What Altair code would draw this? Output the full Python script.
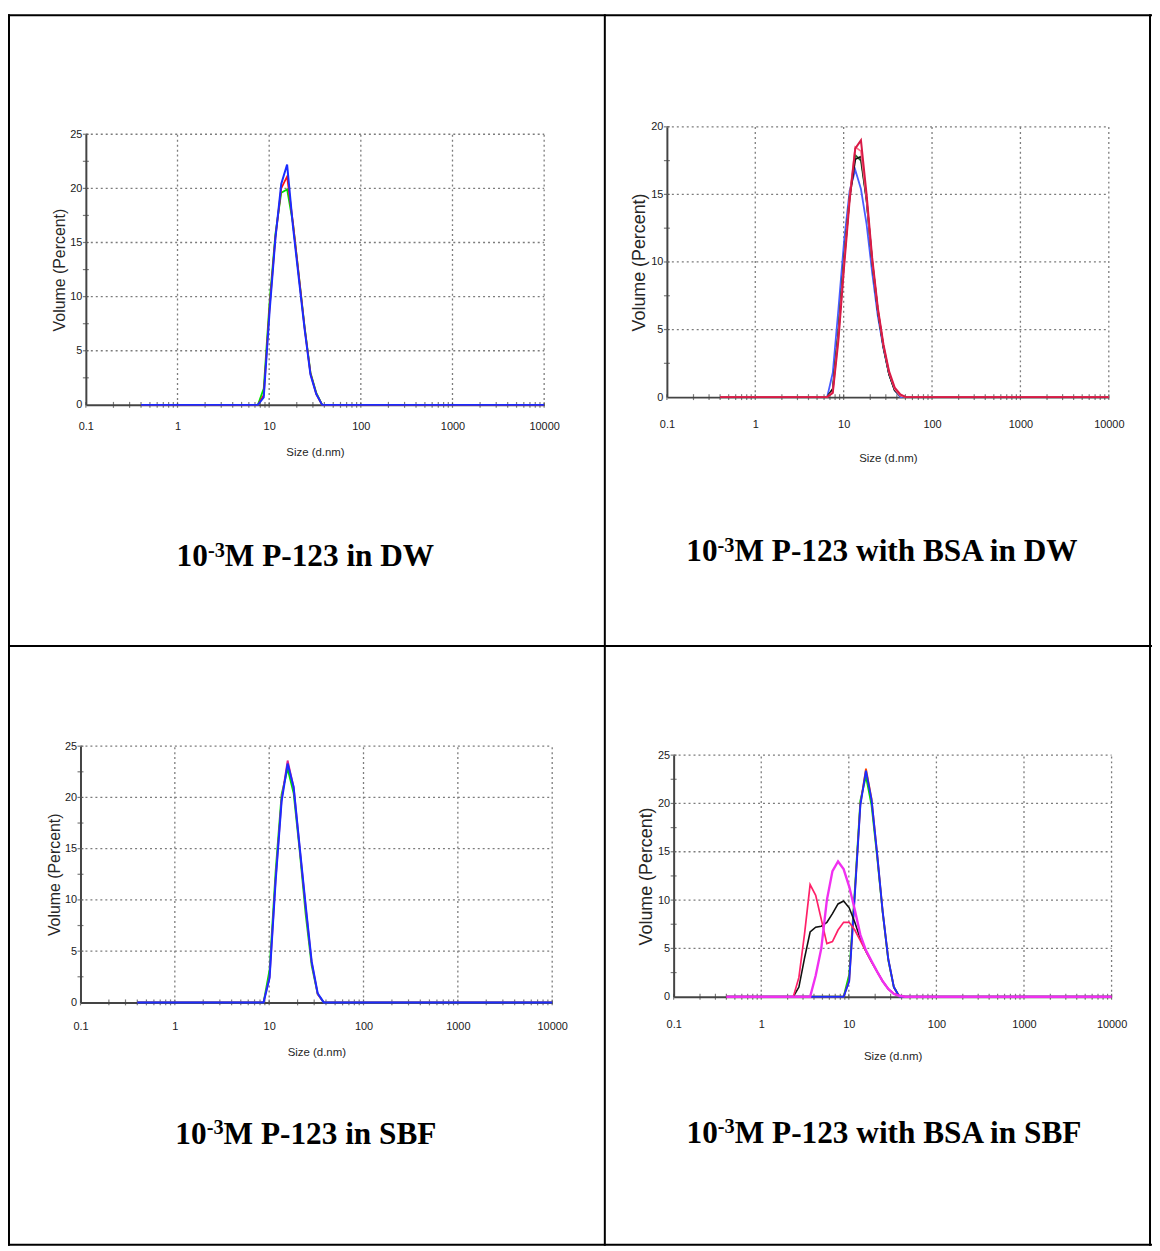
import altair as alt
import pandas as pd

W, H = 1152, 1243
AXC = '#444444'
GRID = '#7c7c7c'

# ---------------- data ----------------
size_major = [0.1, 1, 10, 100, 1000, 10000]
size_decades = [0.1, 1, 10, 100, 1000]
size_steps = [1, 2, 3, 4, 5, 6, 7, 8, 9]

# Panel 1: 10^-3 M P-123 in DW
p1_size  = [0.4, 7.531, 8.721, 10.1, 11.7, 13.54, 15.69, 18.17, 21.04, 24.36, 28.21, 32.67, 37.84, 10000]
p1_green = [0, 0, 1.5, 9.5, 15.8, 19.6, 19.9, 16.8, 12.0, 7.2, 3.0, 1.1, 0, 0]
p1_red   = [0, 0, 0.9, 9.0, 15.5, 20.0, 21.1, 16.8, 12.0, 7.1, 2.9, 1.0, 0, 0]
p1_blue  = [0, 0, 0.7, 8.6, 15.4, 20.4, 22.2, 16.5, 11.7, 7.0, 2.8, 1.0, 0, 0]

# Panel 2: with BSA in DW
p2_size  = [0.4, 6.503, 7.531, 8.721, 10.1, 11.7, 13.54, 15.69, 18.17, 21.04, 24.36, 28.21, 32.67, 37.84, 43.82, 50.75, 10000]
p2_blue  = [0, 0, 1.8, 6.5, 11.5, 15.3, 16.8, 15.4, 12.8, 9.2, 6.0, 3.6, 1.7, 0.5, 0, 0, 0]
p2_green = [0, 0, 0.6, 4.8, 10.2, 14.9, 17.9, 17.5, 14.6, 10.0, 6.4, 3.7, 1.7, 0.5, 0.1, 0, 0]
p2_black = [0, 0, 0.6, 4.8, 10.1, 14.8, 17.6, 17.8, 14.6, 10.0, 6.4, 3.7, 1.7, 0.5, 0.1, 0, 0]
p2_pink  = [0, 0, 0.4, 4.5, 9.9, 14.9, 18.5, 18.2, 14.7, 10.1, 6.5, 3.8, 1.8, 0.6, 0.1, 0, 0]
p2_red   = [0, 0, 0.3, 4.2, 9.6, 14.6, 18.4, 19.0, 15.0, 10.3, 6.6, 3.9, 1.9, 0.7, 0.2, 0, 0]

# Panel 3: in SBF
p3_size  = [0.4, 8.721, 10.1, 11.7, 13.54, 15.69, 18.17, 21.04, 24.36, 28.21, 32.67, 37.84, 10000]
p3_green = [0, 0, 3.2, 12.8, 20.3, 22.8, 20.4, 14.8, 8.6, 3.6, 0.8, 0, 0]
p3_red   = [0, 0, 2.5, 12.0, 19.8, 23.6, 21.0, 15.1, 9.3, 3.9, 0.8, 0, 0]
p3_blue  = [0, 0, 2.4, 11.8, 19.6, 23.3, 21.0, 15.2, 9.5, 4.0, 0.9, 0, 0]

# Panel 4: with BSA in SBF
p4_size    = [0.4, 2.008, 2.325, 2.692, 3.122, 3.615, 4.187, 4.849, 5.615, 6.503, 7.531, 8.721,
              10.1, 11.7, 13.54, 15.69, 18.17, 21.04, 24.36, 28.21, 32.67, 37.84, 43.82, 10000]
p4_green   = [0, 0, 0, 0, 0, 0, 0, 0, 0, 0, 0, 0, 2.3, 11.0, 20.3, 22.8, 19.8, 14.5, 8.7, 3.8, 1.0, 0, 0, 0]
p4_red     = [0, 0, 0, 0, 0, 0, 0, 0, 0, 0, 0, 0, 1.7, 10.6, 19.9, 23.6, 20.5, 14.8, 8.8, 3.9, 1.0, 0, 0, 0]
p4_blue    = [0, 0, 0, 0, 0, 0, 0, 0, 0, 0, 0, 0, 1.6, 10.5, 19.8, 23.4, 20.4, 14.8, 8.8, 3.9, 1.0, 0, 0, 0]
p4_black   = [0, 0, 0, 1.0, 4.0, 6.7, 7.2, 7.3, 7.7, 8.6, 9.6, 9.9, 9.2, 7.7, 6.0, 4.7, 3.6, 2.6, 1.6, 0.8, 0.3, 0.1, 0, 0]
p4_crimson = [0, 0, 0, 2.0, 6.5, 11.6, 10.5, 8.0, 5.5, 5.7, 6.9, 7.7, 7.7, 6.9, 5.8, 4.7, 3.6, 2.6, 1.6, 0.8, 0.3, 0.1, 0, 0]
p4_magenta = [0, 0, 0, 0, 0, 0, 2.2, 5.0, 10.0, 13.0, 14.0, 13.2, 11.4, 9.0, 6.4, 4.8, 3.7, 2.6, 1.6, 0.8, 0.3, 0.1, 0, 0]

# captions: base "10", superscript "-3", rest of the text
cap_base = '10'
cap_sup = '-3'
cap_rest = ['M P-123 in DW', 'M P-123 with BSA in DW', 'M P-123 in SBF', 'M P-123 with BSA in SBF']

x_ticks = [round(d * m, 4) for d in size_decades for m in size_steps] + [10000]

# Times/Liberation Serif Bold advance widths (em) for caption layout
TW = {'M': .944, ' ': .25, 'P': .611, '-': .333, '0': .5, '1': .5, '2': .5, '3': .5, 'i': .278,
      'n': .556, 'D': .722, 'W': 1.0, 'w': .722, 't': .333, 'h': .556, 'B': .667, 'S': .556,
      'A': .722, 'F': .611}
CAP_FS, SUP_FS = 31.5, 20.5


def text_w(s, fs):
    return sum(TW[c] for c in s) * fs


def caption_layers(rest, cx, by):
    w_base = text_w(cap_base, CAP_FS)
    w_sup = text_w(cap_sup, SUP_FS)
    total = w_base + w_sup + text_w(rest, CAP_FS)
    x0 = cx - total / 2
    src = pd.DataFrame({'b': [cap_base], 's': [cap_sup], 'r': [rest]})
    common = dict(font='Liberation Serif', fontWeight='bold', align='left', baseline='alphabetic',
                  color='black')
    return [
        alt.Chart(src).mark_text(fontSize=CAP_FS, **common).encode(
            text='b:N', x=alt.value(x0), y=alt.value(by)),
        alt.Chart(src).mark_text(fontSize=SUP_FS, **common).encode(
            text='s:N', x=alt.value(x0 + w_base), y=alt.value(by - 10)),
        alt.Chart(src).mark_text(fontSize=CAP_FS, **common).encode(
            text='r:N', x=alt.value(x0 + w_base + w_sup), y=alt.value(by)),
    ]


def panel(cfg):
    ymax = cfg['ymax']
    xs = alt.Scale(type='log', domain=[0.1, 10000], range=cfg['xr'], nice=False)
    ys = alt.Scale(type='linear', domain=[0, ymax], range=cfg['yr'], nice=False)
    xaxis = alt.Axis(orient='bottom', offset=cfg['yr'][0] - H, values=size_major, format='~g',
                     ticks=False, grid=False, domainColor=AXC, domainWidth=2,
                     labelFont='Liberation Sans', labelFontSize=11, labelColor='#1a1a1a',
                     labelPadding=cfg['lp'], labelFlush=False, labelOverlap=False,
                     title='Size (d.nm)', titleFont='Liberation Sans', titleFontSize=11.5,
                     titleFontWeight='normal', titleColor='#262626', titlePadding=cfg['tp'])
    yaxis = alt.Axis(orient='left', offset=-cfg['xr'][0], values=cfg['yvals'], format='d',
                     ticks=False, grid=False, domainColor=AXC, domainWidth=2,
                     labelFont='Liberation Sans', labelFontSize=11, labelColor='#1a1a1a',
                     labelPadding=4, title='Volume (Percent)', titleFont='Liberation Sans',
                     titleFontSize=cfg['yts'], titleFontWeight='normal', titleColor='#262626',
                     titlePadding=2)
    X = lambda f: alt.X(f, scale=xs, axis=xaxis)
    Y = lambda f: alt.Y(f, scale=ys, axis=yaxis)
    layers = []
    vg = pd.DataFrame({'x': size_major[1:], 'y': [0] * 5, 'y2': [ymax] * 5})
    layers.append(alt.Chart(vg).mark_rule(color=GRID, strokeDash=[2, 3], strokeWidth=1.3).encode(
        x=X('x:Q'), y=Y('y:Q'), y2='y2:Q'))
    hv = cfg['yvals'][1:]
    hg = pd.DataFrame({'y': hv, 'x': [0.1] * len(hv), 'x2': [10000] * len(hv)})
    layers.append(alt.Chart(hg).mark_rule(color=GRID, strokeDash=[2, 3], strokeWidth=1.3).encode(
        x=X('x:Q'), x2='x2:Q', y=Y('y:Q')))
    xt = pd.DataFrame({'x': x_ticks, 'y': [0] * len(x_ticks)})
    layers.append(alt.Chart(xt).mark_tick(orient='vertical', size=6, thickness=1.2, color=AXC).encode(
        x=X('x:Q'), y=Y('y:Q')))
    yt_vals = [2.5 * i for i in range(1, int(ymax / 2.5) + 1)]
    yt = pd.DataFrame({'y': yt_vals, 'x': [0.1] * len(yt_vals)})
    layers.append(alt.Chart(yt).mark_tick(orient='horizontal', size=6, thickness=1.2, color=AXC).encode(
        x=X('x:Q'), y=Y('y:Q')))
    for vals, color, sw in cfg['series']:
        df = pd.DataFrame({'x': cfg['size'], 'y': vals})
        layers.append(alt.Chart(df).mark_line(color=color, strokeWidth=sw).encode(
            x=X('x:Q'), y=Y('y:Q')))
    layers += caption_layers(cfg['caption'], cfg['cap'][0], cfg['cap'][1])
    return alt.layer(*layers)


cfgs = [
    dict(xr=[78.4, 539.9], yr=[395.3, 122.8], ymax=25, yvals=[0, 5, 10, 15, 20, 25], yts=16,
         lp=16, tp=15, size=p1_size, caption=cap_rest[0], cap=[299.5, 558],
         series=[(p1_green, '#00e000', 1.8), (p1_red, '#ff1010', 1.8), (p1_blue, '#1a2cff', 2.0)]),
    dict(xr=[663.5, 1108.5], yr=[387.5, 115.3], ymax=20, yvals=[0, 5, 10, 15, 20], yts=18,
         lp=21.5, tp=23, size=p2_size, caption=cap_rest[1], cap=[881, 553],
         series=[(p2_blue, '#4a5cff', 1.8), (p2_green, '#1f6b2a', 1.8), (p2_black, '#111111', 1.8),
                 (p2_pink, '#ff7088', 1.8), (p2_red, '#d81a46', 2.0)]),
    dict(xr=[73, 548], yr=[997, 739], ymax=25, yvals=[0, 5, 10, 15, 20, 25], yts=16,
         lp=18, tp=15.5, size=p3_size, caption=cap_rest[2], cap=[300, 1140],
         series=[(p3_green, '#00e000', 1.8), (p3_red, '#e0208a', 1.8), (p3_blue, '#1a2cff', 2.0)]),
    dict(xr=[670.3, 1111.3], yr=[991.3, 748], ymax=25, yvals=[0, 5, 10, 15, 20, 25], yts=18,
         lp=22, tp=21.5, size=p4_size, caption=cap_rest[3], cap=[883, 1139],
         series=[(p4_green, '#00dd00', 1.8), (p4_red, '#ff4400', 1.8), (p4_blue, '#1a2cff', 1.9),
                 (p4_black, '#111111', 1.6), (p4_crimson, '#ff2068', 1.7), (p4_magenta, '#f030f0', 2.4)]),
]

panels = [panel(c) for c in cfgs]

frame_src = pd.DataFrame({'k': [0]})
frame_style = dict(color='black', strokeWidth=2)
frame = alt.layer(
    alt.Chart(frame_src).mark_rule(**frame_style).encode(x=alt.value(0), x2=alt.value(W), y=alt.value(3)),
    alt.Chart(frame_src).mark_rule(**frame_style).encode(x=alt.value(0), x2=alt.value(W), y=alt.value(638)),
    alt.Chart(frame_src).mark_rule(**frame_style).encode(x=alt.value(0), x2=alt.value(W), y=alt.value(1241)),
    alt.Chart(frame_src).mark_rule(**frame_style).encode(x=alt.value(1), y=alt.value(2), y2=alt.value(1242)),
    alt.Chart(frame_src).mark_rule(**frame_style).encode(x=alt.value(601), y=alt.value(2), y2=alt.value(1242)),
    alt.Chart(frame_src).mark_rule(**frame_style).encode(x=alt.value(1150), y=alt.value(2), y2=alt.value(1242)),
)

chart = alt.layer(*panels, frame).resolve_scale(
    x='independent', y='independent'
).properties(
    width=W, height=H, autosize=alt.AutoSizeParams(type='none'), padding=0,
    background='white'
).configure_view(stroke='transparent')

chart.save('out.html', embed_options={'renderer': 'svg', 'actions': False})
